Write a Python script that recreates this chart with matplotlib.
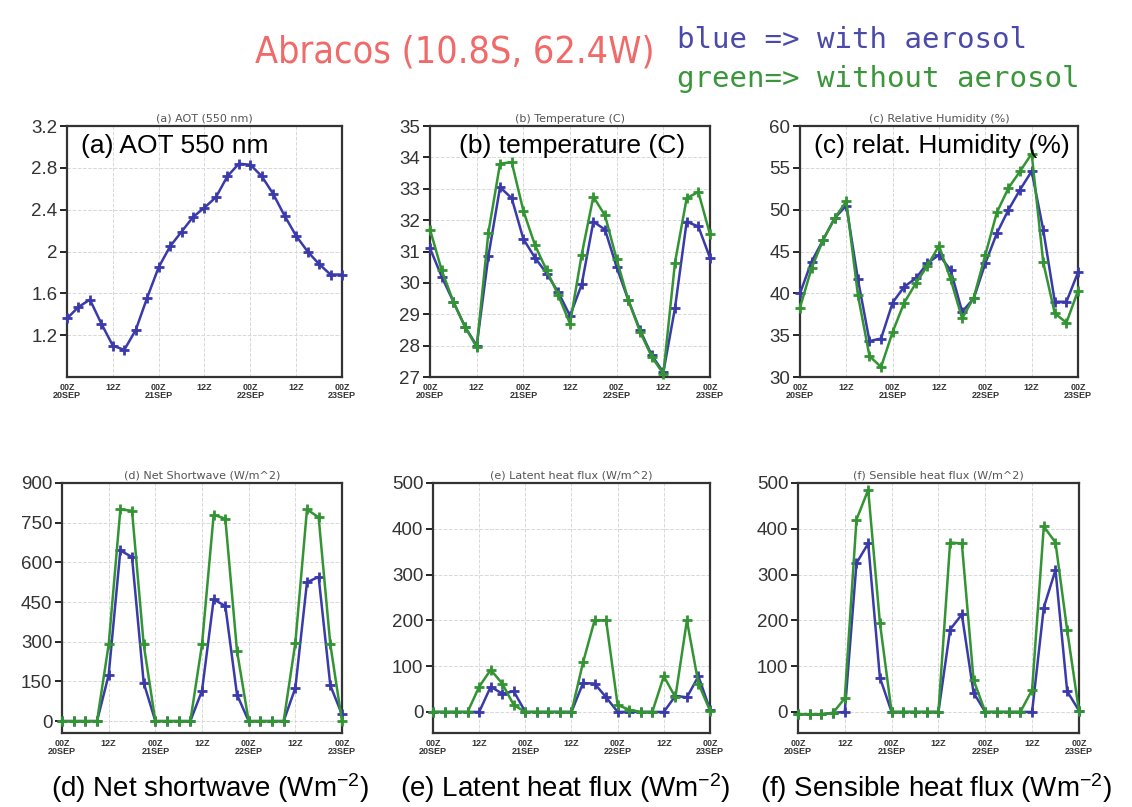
import numpy as np
import matplotlib
matplotlib.use("Agg")
import matplotlib.pyplot as plt

# 3-hourly model output, 00Z 20 SEP to 00Z 23 SEP
HOURS = np.arange(0, 73, 3)

AOT = [1.36, 1.47, 1.54, 1.31, 1.10, 1.06, 1.25, 1.56, 1.85, 2.05, 2.19, 2.33, 2.42,
       2.52, 2.72, 2.84, 2.83, 2.72, 2.55, 2.34, 2.15, 2.00, 1.88, 1.78, 1.78]

TEMP_AER = [31.1, 30.2, 29.4, 28.6, 28.0, 30.85, 33.05, 32.7, 31.4, 30.8, 30.3, 29.7, 28.95,
            29.95, 31.95, 31.7, 30.5, 29.45, 28.5, 27.7, 27.15, 29.2, 31.95, 31.8, 30.8]
TEMP_NOAER = [31.7, 30.4, 29.4, 28.6, 27.95, 31.6, 33.8, 33.85, 32.3, 31.2, 30.4, 29.6, 28.7,
              30.9, 32.75, 32.15, 30.75, 29.45, 28.45, 27.65, 27.1, 30.65, 32.7, 32.9, 31.55]

RH_AER = [40.0, 43.8, 46.4, 49.0, 50.5, 41.7, 34.3, 34.6, 38.9, 40.8, 41.8, 43.6, 44.6,
          42.8, 37.8, 39.4, 43.6, 47.2, 50.0, 52.4, 54.6, 47.6, 39.0, 39.0, 42.5]
RH_NOAER = [38.3, 43.0, 46.4, 49.0, 51.0, 39.8, 32.5, 31.2, 35.4, 38.9, 41.2, 43.3, 45.7,
            41.7, 37.0, 39.5, 44.6, 49.7, 52.6, 54.6, 56.7, 43.7, 37.6, 36.5, 40.3]

SW_AER = [0, 0, 0, 0, 175, 645, 620, 145, 0, 0, 0, 0, 115,
          460, 435, 100, 0, 0, 0, 0, 125, 525, 545, 135, 25]
SW_NOAER = [0, 0, 0, 0, 290, 800, 795, 290, 0, 0, 0, 0, 290,
            780, 765, 265, 0, 0, 0, 0, 295, 800, 770, 290, 0]

LH_AER = [0, 0, 0, 0, 0, 55, 40, 45, 0, 0, 0, 0, 0,
          63, 62, 32, 0, 0, 0, 0, 0, 35, 32, 78, 5]
LH_NOAER = [0, 0, 0, 0, 55, 92, 62, 15, 0, 0, 0, 0, 0,
            108, 200, 200, 15, 5, 0, 0, 78, 32, 200, 62, 3]

SH_AER = [-5, -5, -5, -2, 0, 325, 368, 75, 0, 0, 0, 0, 0,
          180, 213, 42, 0, 0, 0, 0, 0, 228, 310, 45, 3]
SH_NOAER = [-5, -5, -5, -2, 30, 420, 485, 195, 0, 0, 0, 0, 0,
            370, 368, 70, 0, 0, 0, 0, 48, 405, 370, 178, 3]

XTICKS = [0, 12, 24, 36, 48, 60, 72]
XTICKLABELS = ["00Z\n20SEP", "12Z", "00Z\n21SEP", "12Z", "00Z\n22SEP", "12Z", "00Z\n23SEP"]

BLUE = "#3a3aaa"
GREEN = "#339433"

plt.rcParams["font.family"] = ["Liberation Sans", "DejaVu Sans"]
plt.rcParams["mathtext.default"] = "regular"

fig = plt.figure(figsize=(11.32, 8.07), dpi=100)
fig.patch.set_facecolor("white")

# panel layout in figure fraction
panels = [
    dict(rect=[0.0592, 0.5328, 0.2429, 0.311], ylim=(0.8, 3.2),
         yticks=[1.2, 1.6, 2.0, 2.4, 2.8, 3.2], ylabels=["1.2", "1.6", "2", "2.4", "2.8", "3.2"],
         small="(a) AOT (550 nm)", big="(a) AOT 550 nm", bigx=0.05,
         series=[(AOT, BLUE)]),
    dict(rect=[0.3799, 0.5328, 0.2473, 0.311], ylim=(27, 35),
         yticks=list(range(27, 36)), ylabels=None,
         small="(b) Temperature (C)", big="(b) temperature (C)", bigx=0.105,
         series=[(TEMP_AER, BLUE), (TEMP_NOAER, GREEN)]),
    dict(rect=[0.7067, 0.5328, 0.2456, 0.311], ylim=(30, 60),
         yticks=list(range(30, 61, 5)), ylabels=None,
         small="(c) Relative Humidity (%)", big="(c) relat. Humidity (%)", bigx=0.05,
         series=[(RH_AER, BLUE), (RH_NOAER, GREEN)]),
    dict(rect=[0.0548, 0.0917, 0.2473, 0.3098], ylim=(-45, 900),
         yticks=list(range(0, 901, 150)), ylabels=None,
         small="(d) Net Shortwave (W/m^2)", big=None,
         series=[(SW_AER, BLUE), (SW_NOAER, GREEN)]),
    dict(rect=[0.3825, 0.0917, 0.2447, 0.3098], ylim=(-46, 500),
         yticks=list(range(0, 501, 100)), ylabels=None,
         small="(e) Latent heat flux (W/m^2)", big=None,
         series=[(LH_AER, BLUE), (LH_NOAER, GREEN)]),
    dict(rect=[0.7049, 0.0917, 0.2482, 0.3098], ylim=(-46, 500),
         yticks=list(range(0, 501, 100)), ylabels=None,
         small="(f) Sensible heat flux (W/m^2)", big=None,
         series=[(SH_AER, BLUE), (SH_NOAER, GREEN)]),
]

for p in panels:
    ax = fig.add_axes(p["rect"])
    for vals, col in p["series"]:
        ax.plot(HOURS, vals, color=col, linewidth=1.8, marker="+",
                markersize=7, markeredgewidth=2.0, zorder=3, clip_on=False)
    ax.set_xlim(0, 72)
    ax.set_ylim(*p["ylim"])
    ax.set_xticks(XTICKS)
    ax.set_xticklabels(XTICKLABELS, fontsize=6.5, fontweight="bold",
                       color="#333333", linespacing=0.9)
    ax.set_yticks(p["yticks"])
    if p["ylabels"] is not None:
        ax.set_yticklabels(p["ylabels"])
    ax.tick_params(axis="y", labelsize=13.5, labelcolor="#333333", length=5,
                   width=1.2, direction="out", pad=2)
    ax.tick_params(axis="x", length=0, pad=4)
    ax.grid(True, color="#d8d8d8", linestyle="--", linewidth=0.7)
    for s in ax.spines.values():
        s.set_linewidth(1.6)
        s.set_color("#333333")
    ax.set_title(p["small"], fontsize=8, color="#555555", pad=3,
                 fontfamily=["DejaVu Sans"])
    if p["big"]:
        ax.text(p["bigx"], 0.97, p["big"], transform=ax.transAxes, fontsize=19,
                ha="left", va="top", color="black", zorder=5)

# header
fig.text(0.225, 0.935, "Abracos (10.8S, 62.4W)", color="#f06a6a", fontsize=27,
         fontfamily=["DejaVu Sans"], fontstretch="condensed", fontweight="light",
         ha="left", va="center")
fig.text(0.598, 0.951, "blue => with aerosol", color="#4a4aa8", fontsize=21,
         fontfamily=["DejaVu Sans Mono"], ha="left", va="center")
fig.text(0.598, 0.902, "green=> without aerosol", color="#3a963a", fontsize=21,
         fontfamily=["DejaVu Sans Mono"], ha="left", va="center")

# captions under the bottom row
captions = [
    (0.045, "(d) Net shortwave (Wm$^{-2}$)"),
    (0.353, "(e) Latent heat flux (Wm$^{-2}$)"),
    (0.671, "(f) Sensible heat flux (Wm$^{-2}$)"),
]
for x, txt in captions:
    fig.text(x, 0.024, txt, fontsize=20, color="black", ha="left", va="center",
             fontfamily=["Liberation Sans", "DejaVu Sans"])

fig.savefig("out.png", dpi=100, facecolor="white")
